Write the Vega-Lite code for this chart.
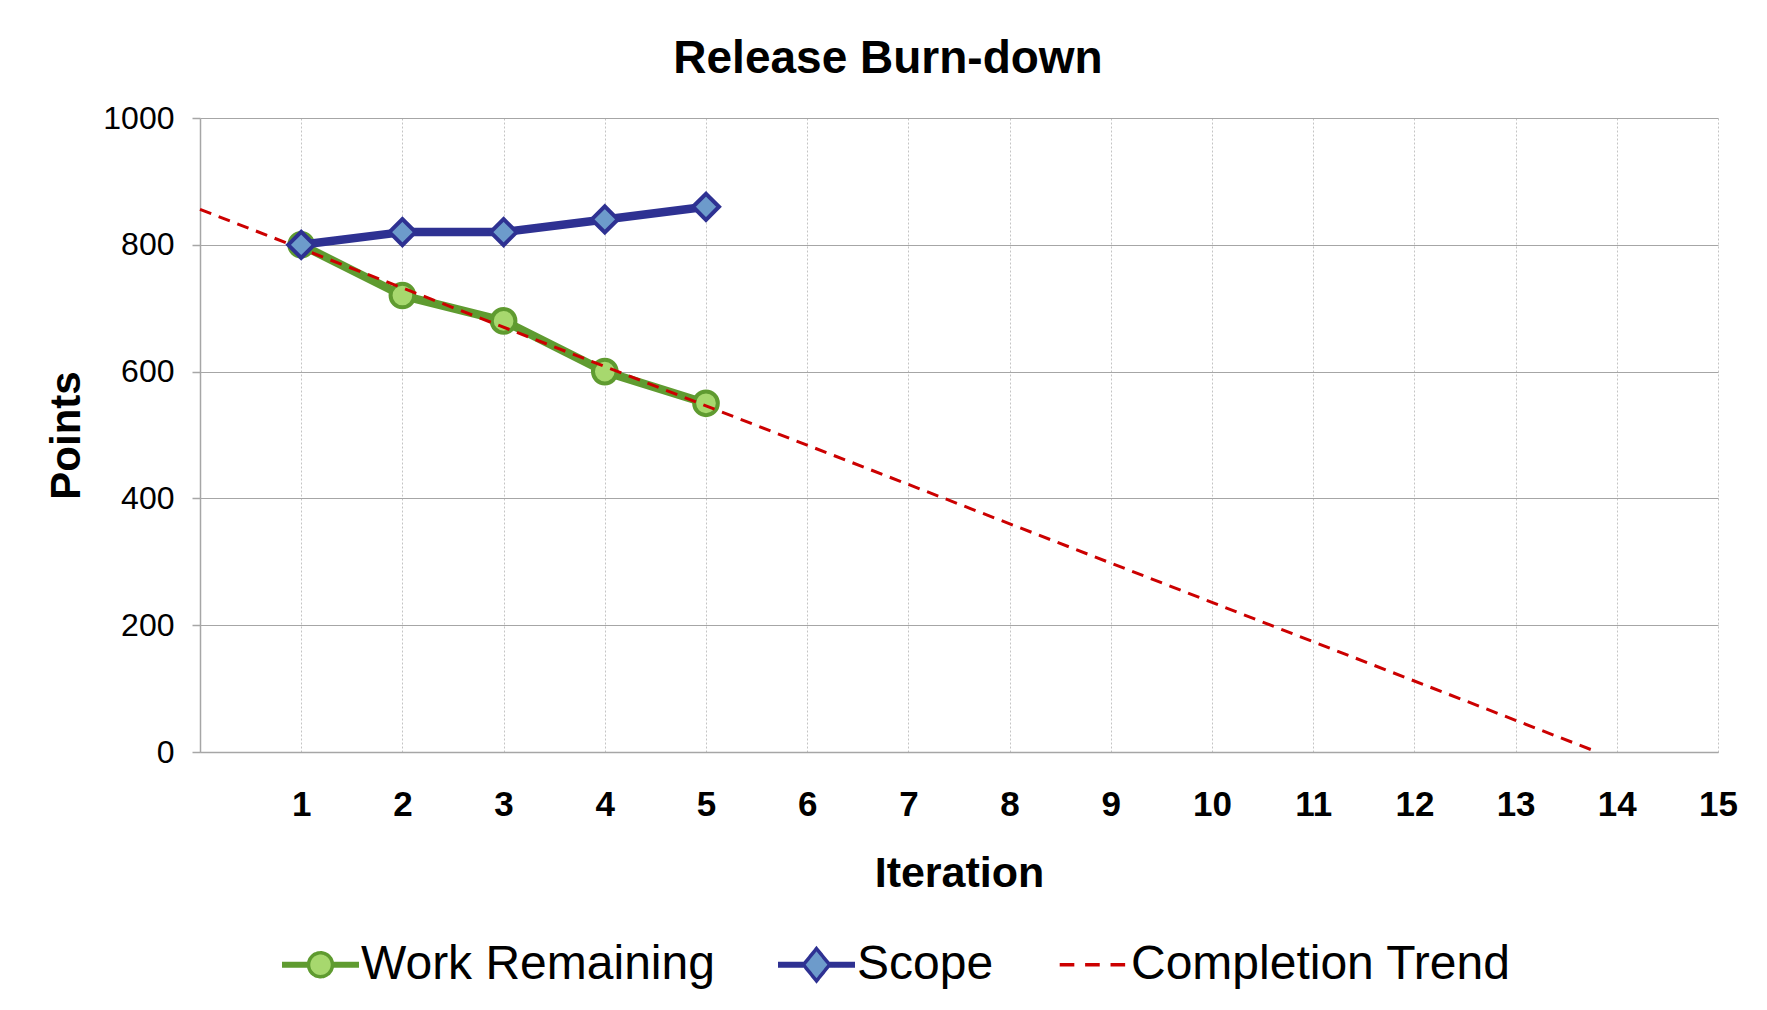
{
  "$schema": "https://vega.github.io/schema/vega-lite/v6.json",
  "width": 1518,
  "height": 634,
  "autosize": {"type": "none"},
  "padding": {"left": 200, "top": 118, "right": 49, "bottom": 258},
  "background": "white",
  "config": {
    "font": "Liberation Sans",
    "view": {"stroke": null},
    "axis": {"labelColor": "black", "titleColor": "black", "labelFont": "Liberation Sans", "titleFont": "Liberation Sans"}
  },
  "title": {
    "text": "Release Burn-down",
    "font": "Liberation Sans",
    "fontSize": 46,
    "fontWeight": "bold",
    "color": "black",
    "anchor": "middle",
    "frame": "group",
    "dx": -71,
    "baseline": "alphabetic",
    "offset": -17
  },
  "data": {
    "values": [
      {"series": "Work Remaining", "iteration": 1, "points": 800},
      {"series": "Work Remaining", "iteration": 2, "points": 720},
      {"series": "Work Remaining", "iteration": 3, "points": 680},
      {"series": "Work Remaining", "iteration": 4, "points": 600},
      {"series": "Work Remaining", "iteration": 5, "points": 550},
      {"series": "Scope", "iteration": 1, "points": 800},
      {"series": "Scope", "iteration": 2, "points": 820},
      {"series": "Scope", "iteration": 3, "points": 820},
      {"series": "Scope", "iteration": 4, "points": 840},
      {"series": "Scope", "iteration": 5, "points": 860},
      {"series": "Completion Trend", "iteration": 0, "points": 856},
      {"series": "Completion Trend", "iteration": 13.806, "points": 0}
    ]
  },
  "encoding": {
    "x": {
      "field": "iteration", "type": "quantitative",
      "scale": {"domain": [0, 15], "nice": false, "zero": false},
      "axis": {
        "title": "Iteration",
        "values": [1,2,3,4,5,6,7,8,9,10,11,12,13,14,15],
        "grid": true, "gridColor": "#c4c4c4", "gridDash": [2, 2], "gridWidth": 1,
        "ticks": false, "tickSize": 0,
        "domainColor": "#a6a6a6", "domainWidth": 1.5,
        "labelFontSize": 35, "labelFontWeight": "bold", "labelPadding": 35, "labelFlush": false,
        "titleFontSize": 43, "titleFontWeight": "bold", "titlePadding": 30
      }
    },
    "y": {
      "field": "points", "type": "quantitative",
      "scale": {"domain": [0, 1000], "nice": false},
      "axis": {
        "title": "Points",
        "values": [0, 200, 400, 600, 800, 1000],
        "format": "d",
        "grid": true, "gridColor": "#a6a6a6", "gridWidth": 1.2,
        "ticks": true, "tickSize": 8, "tickColor": "#a6a6a6", "tickWidth": 1.5,
        "domainColor": "#a6a6a6", "domainWidth": 1.5,
        "labelFontSize": 32, "labelFontWeight": 500, "labelPadding": 18,
        "titleFontSize": 42, "titleFontWeight": "bold", "titlePadding": 14
      }
    }
  },
  "layer": [
    {
      "transform": [{"filter": "datum.series === 'Work Remaining'"}],
      "mark": {"type": "line", "strokeWidth": 8.5, "strokeJoin": "round"},
      "encoding": {
        "color": {
          "field": "series", "type": "nominal",
          "scale": {"domain": ["Work Remaining", "Scope", "Completion Trend"], "range": ["#5f9b30", "#2e3192", "#cc0000"]},
          "legend": {
            "orient": "none",
            "legendX": 80,
            "legendY": 806,
            "direction": "horizontal",
            "title": null,
            "padding": 0,
            "symbolSize": 5929,
            "labelFont": "Liberation Sans",
            "labelFontSize": 48,
            "labelColor": "black",
            "labelLimit": 0,
            "labelOffset": 0,
            "columnPadding": 56,
            "encoding": {
              "symbols": {
                "shape": {"value": {"expr": "datum.value === 'Work Remaining' ? 'M-1,-0.035H-0.31M-1,0.035H-0.31M0.31,-0.035H1M0.31,0.035H1M-0.31,0A0.31,0.31 0 1,0 0.31,0A0.31,0.31 0 1,0 -0.31,0Z' : datum.value === 'Scope' ? 'M-1,-0.035H-0.34M-1,0.035H-0.34M0.34,-0.035H1M0.34,0.035H1M-0.34,0L0,-0.42L0.34,0L0,0.42Z' : 'M-0.8,0H-0.42M-0.14,0H0.24M0.52,0H0.9'"}},
                "fill": {"value": {"expr": "datum.value === 'Work Remaining' ? '#a7d86e' : datum.value === 'Scope' ? '#6d9bcb' : 'transparent'"}},
                "stroke": {"value": {"expr": "datum.value === 'Work Remaining' ? '#5f9b30' : datum.value === 'Scope' ? '#2e3192' : '#cc0000'"}},
                "strokeWidth": {"value": 3.5},
                "strokeDash": {"value": [1, 0]},
                "opacity": {"value": 1}
              }
            }
          }
        }
      }
    },
    {
      "transform": [{"filter": "datum.series === 'Work Remaining'"}],
      "mark": {"type": "point", "shape": "circle", "size": 560, "filled": true, "fill": "#a7d86e", "stroke": "#5f9b30", "strokeWidth": 4, "opacity": 1}
    },
    {
      "transform": [{"filter": "datum.series === 'Completion Trend'"}],
      "mark": {"type": "line", "strokeWidth": 3, "strokeDash": [12, 8]},
      "encoding": {"color": {"field": "series", "type": "nominal"}}
    },
    {
      "transform": [{"filter": "datum.series === 'Scope'"}],
      "mark": {"type": "line", "strokeWidth": 8.5, "strokeJoin": "round"},
      "encoding": {"color": {"field": "series", "type": "nominal"}}
    },
    {
      "transform": [{"filter": "datum.series === 'Scope'"}],
      "mark": {"type": "point", "shape": "diamond", "size": 680, "filled": true, "fill": "#6d9bcb", "stroke": "#2e3192", "strokeWidth": 4, "opacity": 1}
    }
  ]
}
